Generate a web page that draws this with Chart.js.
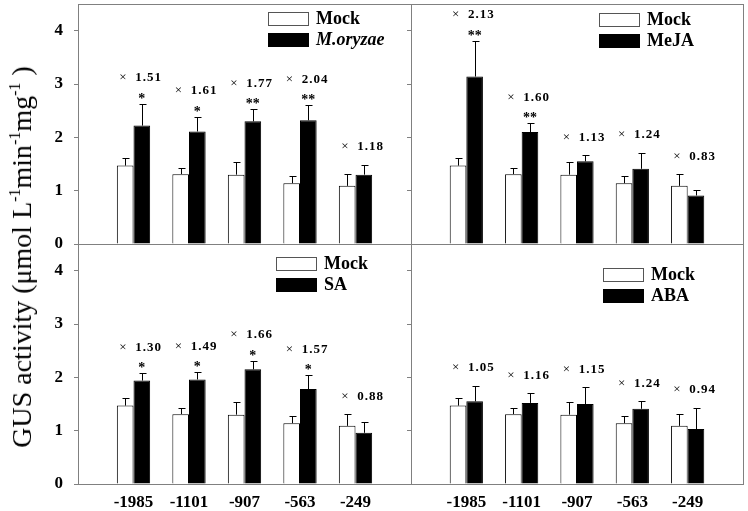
<!DOCTYPE html>
<html>
<head>
<meta charset="utf-8">
<script src="https://cdn.jsdelivr.net/npm/chart.js@4.4.1/dist/chart.umd.min.js"></script>
<style>
body { margin: 0; background: #fff; }
#wrap { position: relative; width: 748px; height: 511px; overflow: hidden; }
canvas { position: absolute; left: 0; top: 0; }
#ytitle {
    position: absolute; left: 22px; top: 257px;
    transform: translate(-50%, -50%) rotate(-90deg);
    white-space: nowrap; font-family: 'Liberation Serif', serif; font-size: 28px; color: #000;
}
#ytitle sup { font-size: 16px; vertical-align: 11px; line-height: 0; }
</style>
</head>
<body>
<div id="wrap">
    <canvas id="tl" width="748" height="511"></canvas>
    <canvas id="tr" width="748" height="511"></canvas>
    <canvas id="bl" width="748" height="511"></canvas>
    <canvas id="br" width="748" height="511"></canvas>
    <div id="ytitle">GUS activity (μmol L<sup>-1</sup>min<sup>-1</sup>mg<sup>-1</sup> )</div>
</div>
<script>
const promoters = ['-1985', '-1101', '-907', '-563', '-249'];
const yTicks = [0, 1, 2, 3, 4];

const mockValues = [1.47, 1.31, 1.30, 1.14, 1.09];
const mockErrors = [0.15, 0.11, 0.23, 0.13, 0.22];

const oryzaeValues = [2.22, 2.11, 2.30, 2.32, 1.30];
const oryzaeErrors = [0.41, 0.28, 0.23, 0.28, 0.19];
const oryzaeRatios = ['1.51', '1.61', '1.77', '2.04', '1.18'];
const oryzaeStars = ['*', '*', '**', '**', ''];

const mejaValues = [3.14, 2.10, 1.55, 1.41, 0.91];
const mejaErrors = [0.67, 0.16, 0.11, 0.30, 0.10];
const mejaRatios = ['2.13', '1.60', '1.13', '1.24', '0.83'];
const mejaStars = ['**', '**', '', '', ''];

const saValues = [1.94, 1.96, 2.15, 1.78, 0.96];
const saErrors = [0.14, 0.14, 0.16, 0.26, 0.21];
const saRatios = ['1.30', '1.49', '1.66', '1.57', '0.88'];
const saStars = ['*', '*', '*', '*', ''];

const abaValues = [1.55, 1.52, 1.50, 1.41, 1.03];
const abaErrors = [0.29, 0.18, 0.31, 0.14, 0.40];
const abaRatios = ['1.05', '1.16', '1.15', '1.24', '0.94'];
const abaStars = ['', '', '', '', ''];

const FONT = "'Liberation Serif', 'Times New Roman', serif";
Chart.defaults.font.family = FONT;
Chart.defaults.color = '#000';

// empty slots at both ends so the groups sit at 1..5 on a 0..6 axis
const pad = arr => [null, ...arr, null];

const panelExtras = {
    id: 'panelExtras',
    afterDatasetsDraw(chart, args, o) {
        const ctx = chart.ctx, a = chart.chartArea, ys = chart.scales.y;
        const metas = [chart.getDatasetMeta(0), chart.getDatasetMeta(1)];
        const sets = chart.data.datasets;
        ctx.save();

        // frame
        ctx.strokeStyle = '#808080';
        ctx.lineWidth = 1;
        ctx.strokeRect(a.left + 0.5, a.top + 0.5, a.right - a.left, a.bottom - a.top);

        // error bars (upper only)
        ctx.strokeStyle = '#000';
        sets.forEach((ds, d) => {
            metas[d].data.forEach((bar, i) => {
                if (ds.data[i] == null) return;
                const x = Math.round(bar.x) + 0.5;
                const yTop = Math.round(ys.getPixelForValue(ds.data[i] + ds.errors[i])) + 0.5;
                ctx.beginPath();
                ctx.moveTo(x, bar.y);
                ctx.lineTo(x, yTop);
                ctx.moveTo(x - 3, yTop);
                ctx.lineTo(x + 4, yTop);
                ctx.stroke();
            });
        });

        // fold change and significance marks
        ctx.fillStyle = '#000';
        o.ratios.forEach((r, k) => {
            const i = k + 1;
            const tops = sets.map(ds => ys.getPixelForValue(ds.data[i] + ds.errors[i]));
            const star = o.stars[k];
            if (star) {
                ctx.textAlign = 'center';
                ctx.textBaseline = 'alphabetic';
                ctx.font = 'bold 14px ' + FONT;
                ctx.fillText(star, metas[1].data[i].x, tops[1] - 1);
            }
            const ly = (star ? tops[1] - 27 : Math.min(...tops) - 19) + 4.5;
            const x0 = metas[0].data[i].x - 6;
            ctx.textAlign = 'left';
            ctx.textBaseline = 'alphabetic';
            ctx.font = '13px ' + FONT;
            ctx.fillText('×', x0, ly);
            ctx.font = 'bold 13px ' + FONT;
            ctx.letterSpacing = '1px';
            ctx.fillText(r, x0 + 16, ly);
            ctx.letterSpacing = '0px';
        });

        // legend inside the plot
        const lx = a.left + o.legend[0], ly0 = a.top + o.legend[1];
        sets.forEach((ds, d) => {
            const by = ly0 + d * 21;
            ctx.fillStyle = ds.backgroundColor;
            ctx.fillRect(lx, by, 41, 14);
            ctx.strokeStyle = d === 0 ? '#555' : '#000';
            ctx.strokeRect(lx + 0.5, by + 0.5, 40, 13);
            ctx.fillStyle = '#000';
            ctx.font = (ds.italic ? 'italic ' : '') + 'bold 18px ' + FONT;
            ctx.textAlign = 'left';
            ctx.textBaseline = 'middle';
            ctx.fillText(ds.label, lx + 48, by + 7.5);
        });
        ctx.restore();
    }
};

function makePanel(id, p) {
    return new Chart(document.getElementById(id), {
        type: 'bar',
        data: {
            labels: pad(promoters).map(l => l || ''),
            datasets: [{
                label: 'Mock',
                data: pad(mockValues),
                errors: pad(mockErrors),
                backgroundColor: '#ffffff',
                borderColor: '#000',
                borderWidth: 1
            }, {
                label: p.label,
                italic: p.italic,
                data: pad(p.values),
                errors: pad(p.errors),
                backgroundColor: '#000000',
                borderColor: '#000',
                borderWidth: 1
            }]
        },
        options: {
            responsive: false,
            animation: false,
            events: [],
            categoryPercentage: 0.6,
            barPercentage: 1.0,
            layout: {
                padding: { left: 0, top: p.area.top, right: 748 - p.area.right, bottom: 0 }
            },
            scales: {
                x: {
                    offset: false,
                    grid: { display: false, drawTicks: false },
                    border: { display: false },
                    ticks: {
                        display: p.showX,
                        padding: 8,
                        autoSkip: false,
                        maxRotation: 0,
                        font: { size: 17, weight: 'bold' }
                    },
                    afterFit: s => {
                        s.height = 511 - p.area.bottom;
                        s.paddingLeft = 0;
                        s.paddingRight = 0;
                    }
                },
                y: {
                    min: 0,
                    max: 4.5,
                    afterBuildTicks: s => { s.ticks = yTicks.map(v => ({ value: v })); },
                    grid: { drawOnChartArea: false, drawTicks: true, tickLength: 4, color: '#808080' },
                    border: { display: false },
                    ticks: {
                        display: p.showY,
                        padding: 11,
                        font: { size: 17, weight: 'bold' }
                    },
                    afterFit: s => {
                        s.width = p.area.left;
                        s.paddingTop = 0;
                        s.paddingBottom = 0;
                    }
                }
            },
            plugins: {
                legend: { display: false },
                tooltip: { enabled: false },
                panelExtras: { ratios: p.ratios, stars: p.stars, legend: p.legend }
            }
        },
        plugins: [panelExtras]
    });
}

makePanel('tl', {
    label: 'M.oryzae', italic: true,
    values: oryzaeValues, errors: oryzaeErrors, ratios: oryzaeRatios, stars: oryzaeStars,
    area: { left: 78, top: 4, right: 411, bottom: 244 }, showY: true, showX: false,
    legend: [190, 8]
});
makePanel('tr', {
    label: 'MeJA', italic: false,
    values: mejaValues, errors: mejaErrors, ratios: mejaRatios, stars: mejaStars,
    area: { left: 411, top: 4, right: 743, bottom: 244 }, showY: false, showX: false,
    legend: [188, 9]
});
makePanel('bl', {
    label: 'SA', italic: false,
    values: saValues, errors: saErrors, ratios: saRatios, stars: saStars,
    area: { left: 78, top: 244, right: 411, bottom: 484 }, showY: true, showX: true,
    legend: [198, 13]
});
makePanel('br', {
    label: 'ABA', italic: false,
    values: abaValues, errors: abaErrors, ratios: abaRatios, stars: abaStars,
    area: { left: 411, top: 244, right: 743, bottom: 484 }, showY: false, showX: true,
    legend: [192, 24]
});
</script>
</body>
</html>
